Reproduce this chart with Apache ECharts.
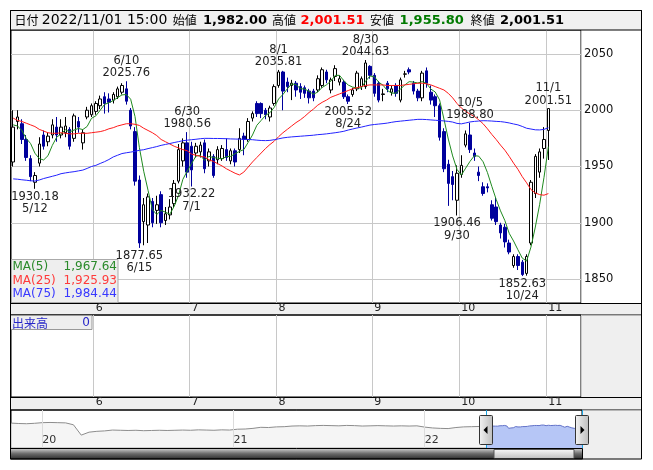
<!DOCTYPE html>
<html>
<head>
<meta charset="utf-8">
<script src="https://cdn.jsdelivr.net/npm/echarts@6/dist/echarts.min.js"></script>
<style>
html, body { margin: 0; padding: 0; background: #fff; }
#chart { width: 653px; height: 470px; }
</style>
</head>
<body>
<div id="chart"></div>
<script>
// trading days shown in the main window
const dates = [
  '5/2','5/6','5/9','5/10','5/11','5/12','5/13','5/16','5/17','5/18','5/19','5/20','5/23','5/24','5/25','5/26','5/27','5/30','5/31',
  '6/1','6/2','6/3','6/6','6/7','6/8','6/9','6/10','6/13','6/14','6/15','6/16','6/17','6/20','6/21','6/22','6/23','6/24','6/27','6/28','6/29','6/30',
  '7/1','7/4','7/5','7/6','7/7','7/8','7/11','7/12','7/13','7/14','7/15','7/19','7/20','7/21','7/22','7/25','7/26','7/27','7/28','7/29',
  '8/1','8/2','8/3','8/4','8/5','8/8','8/9','8/10','8/12','8/15','8/16','8/17','8/18','8/19','8/22','8/23','8/24','8/25','8/26','8/29','8/30','8/31',
  '9/1','9/2','9/5','9/6','9/7','9/8','9/9','9/12','9/13','9/14','9/15','9/16','9/20','9/21','9/22','9/26','9/27','9/28','9/29','9/30',
  '10/3','10/4','10/5','10/6','10/7','10/11','10/12','10/13','10/14','10/17','10/18','10/19','10/20','10/21','10/24','10/25','10/26','10/27','10/28','10/31',
  '11/1'
];
const opens = [
  1954,1990,1988,1974,1957,1936,1953,1978,1972,1978, 1985,1978,1980,1983,1975,1990,1971,1994,1996,1999,
  2004,2012,2010,2009,2012,2016,2019,2000,1981,1938, 1901,1898,1919,1911,1925,1902,1907,1917,1937,1955,
  1971,1968,1962,1963,1971,1955,1959,1956,1957,1965, 1955,1964,1965,1977,1974,1993,2006,2006,2000,1994,
  2006,2022,2034,2025,2022,2024,2021,2020,2017,2017, 2018,2022,2034,2018,2030,2025,2025,2012,2014,2019,
  2021,2021,2039,2031,2024,2014,2024,2016,2022,2009, 2032,2036,2024,2017,2011,2035,2016,2012,2004,1981,
  1952,1941,1920,1943,1969,1978,1962,1945,1932,1932, 1916,1914,1898,1896,1882,1862,1870,1865,1855,1882,
  1926,1945,1966,1982.00
];
const closes = [
  1985,1994,1974,1958,1941,1942,1970,1968,1977,1987, 1978,1985,1986,1968,1995,1985,1980,2000,2004,2006,
  2010,2006,2007,2014,2019,2022,2008,1986,1937,1882, 1916,1923,1900,1916,1900,1908,1914,1935,1965,1971,
  1945,1947,1968,1969,1948,1963,1942,1965,1966,1958, 1964,1954,1975,1974,1990,1997,1997,1997,1996,2002,
  2021,2034,2017,2021,2024,2018,2016,2015,2011,2011, 2028,2036,2027,2027,2037,2028,2012,2008,2018,2033,
  2028,2042,2031,2015,2009,2014.5,2019,2019,2015,2027, 2032.3,2034,2017,2011,2033,2024,2009,2004,1976,1948,
  1935,1934,1944,1951,1979,1965,1959,1942,1926,1931, 1904,1901,1891,1883,1874,1870,1862,1854,1870,1936,
  1959,1963,1974,2001.51
];
const lows = [
  1950,1983,1970,1955,1937,1930.18,1950,1965,1968,1975, 1972,1975,1976,1965,1972,1980,1965,1992,1994,1996,
  2001,1997,1998,2006,2010,2014,2005,1983,1933,1877.65, 1880,1882,1896,1899,1896,1898,1903,1914,1935,1950,
  1940,1932.22,1958,1958,1944,1950,1940,1952,1955,1955, 1952,1950,1962,1960,1972,1990,1994,1993,1992,1990,
  2004,2020,2000,2016,2009,2012,2010,2011,2006,2008, 2016,2020,2024,2015,2026,2022,2010,2005.52,2012,2017,
  2018,2019,2028,2012,2007,2008,2016,2013,2012,2007, 2029,2032,2014,2008,2008,2020,2005,1994,1973,1945,
  1915,1920,1906.46,1940,1967,1962,1955,1937,1924,1927, 1902,1898,1886,1878,1872,1860,1858,1852.63,1853,1880,
  1922,1940,1957,1955.80
];
const highs = [
  2000,2000,1992,1978,1960,1945,1976,1982,1980,1992, 1994,1992,1994,1985,1997,1994,1983,2003,2006,2008,
  2013,2016,2015,2016,2021,2024,2025.76,2002,1985,1942, 1922,1926,1922,1924,1928,1914,1921,1938,1970,1975,
  1980.56,1972,1971,1972,1974,1966,1961,1968,1969,1975, 1966,1966,1984,1980,1993,1999,2008,2007,2002,2004,
  2023,2035.81,2035,2029,2027,2026,2024,2022,2019,2019, 2031,2038,2036,2029,2040,2031,2027,2014,2020,2035,
  2030,2044.63,2040,2033,2026,2019,2026,2022,2024,2029, 2035,2038,2026,2019,2035,2038,2022,2014,2006,1984,
  1956,1946,1951,1960,1982,1988.80,1966,1950,1936,1935, 1920,1922,1900,1899,1885,1872,1872,1867,1872,1938,
  1961,1966,1985,2001.51
];
const ma5 = [
  1987,1986,1982,1975,1970.4,1961.8,1957,1955.8,1959.6,1968.8, 1976,1979,1982.6,1980.8,1982.4,1983.8,1982.8,1985.6,1992.8,1995,
  2000,2005.2,2006.6,2008.6,2011.2,2013.6,2014,2009.8,1994.4,1967, 1945.8,1928.8,1911.6,1907.4,1911,1909.4,1907.6,1914.6,1924.4,1938.6,
  1946,1952.6,1959.2,1960,1955.4,1959,1958,1957.4,1956.8,1958.8, 1959,1961.4,1963.4,1965,1971.4,1978,1986.6,1991,1995.4,1997.8,
  2002.6,2010,2014,2019,2023.4,2022.8,2019.2,2018.8,2016.8,2014.2, 2016.2,2020.2,2022.6,2025.8,2031,2031,2026.2,2022.4,2020.6,2019.8,
  2019.8,2025.8,2030.4,2029.8,2025,2022.2,2017.6,2015.2,2015.2,2018.8, 2022.4,2025.4,2025,2024.2,2025.4,2023.8,2018.8,2016.2,2009.2,1992.2,
  1974.4,1959.4,1947.4,1942.4,1948.6,1954.6,1959.6,1959.2,1954.2,1944.6, 1932.4,1920.8,1910.6,1902,1890.6,1883.8,1876,1868.6,1866,1878.4,
  1896.2,1916.4,1940.4,1967.64
];
const ma25 = [
  1993,1991,1990,1988.5,1987,1985.5,1983,1981.5,1980,1979.5, 1979.5,1980,1979.5,1979,1979,1979.5,1979.5,1979.5,1980,1980.5,
  1981,1982,1983.5,1984.5,1986,1987,1988,1988,1987.5,1986.5, 1984,1982,1980,1977.5,1974,1972,1970,1968,1966.5,1965,
  1964,1961,1960,1959,1958.5,1956,1954.5,1952.5,1950.5,1948, 1946,1944,1942.5,1945,1949.5,1954,1958,1962,1966,1969.5,
  1972.5,1976.5,1980,1983,1986,1989,1991.5,1994.5,1998,2001, 2004.5,2007,2009,2011.5,2013,2014.5,2016,2017.5,2019,2020,
  2021,2022,2022.5,2022.5,2022.5,2022.5,2022,2022,2022,2022, 2022.5,2023,2023.5,2024,2024,2023.5,2022.5,2021,2019.5,2018,
  2015,2011,2006,2002,1999,1996.5,1994.5,1991.5,1988,1983.5, 1978.5,1974,1969,1964.5,1959,1953,1947.5,1941,1935.5,1929.5,
  1926.5,1925,1924.5,1925.93
];
const ma75 = [
  1939,1938.7,1938.2,1937.8,1937.3,1937.1,1938,1939.3,1940.3,1941.3, 1942.3,1943.6,1944.3,1944.9,1945.4,1946.1,1946.8,1948.3,1950,1951,
  1952.7,1954.3,1956.2,1958.5,1960,1961.5,1962.2,1962.8,1963.5,1964.4, 1964.9,1965.9,1966.8,1967.7,1968.8,1969.6,1970.4,1971.3,1972.1,1972.9,
  1973.4,1973.8,1974.2,1974.7,1975,1975,1974.9,1974.9,1974.8,1974.7, 1974.5,1974.4,1974.3,1974.2,1974,1973.8,1973.4,1973.1,1973,1973.2,
  1973.8,1974.6,1975.4,1975.9,1976.3,1976.6,1976.9,1977.2,1977.5,1977.8, 1978.3,1978.6,1979,1979.5,1980,1980.6,1981.3,1982.4,1983.3,1984.2,
  1985,1985.9,1986.8,1987.3,1987.7,1988.1,1988.6,1989.3,1989.9,1990.3, 1990.7,1991.1,1991.5,1991.9,1991.9,1991.7,1991.4,1991.1,1990.8,1990.5,
  1990.1,1989.5,1988.3,1987.9,1988.7,1989.6,1990.1,1990.4,1990.7,1990.6, 1990.4,1990.1,1989.9,1989.4,1988.7,1987.8,1987,1985.6,1984,1983.3,
  1982.6,1982.5,1983,1984.44
];
const volumeNow = 0;
const priceTicks = [1850, 1900, 1950, 2000, 2050];

// high / low notes
const noteDates = ['5/12','6/10','6/15','6/30','7/1','8/1','8/24','8/30','9/30','10/5','10/24','11/1'];
const noteSides = ['low','high','low','high','low','high','low','high','low','high','low','high'];

// navigator: long history, one value every 10 trading days, then the window itself
const navHistory = [
  2130,2110,2100,2120,2150,2160,2150,2140,2050,1560,
  1700,1740,1760,1800,1790,1780,1790,1770,1780,1790,
  1780,1790,1800,1790,1810,1800,1790,1810,1800,1840,
  1850,1880,1930,1920,1950,1960,1990,2000,1990,2010,
  2020,2010,2000,2020,2010,1990,2000,2010,2000,1990,
  2000,1990,2000,1940,1900,1880,1870,1920,1950,1960,1970
];
const navStep = 10;
const navWindowStart = 608.5;
const navYearPos = [40, 285, 530];
const navYearLabels = ['20', '21', '22'];

const stamp = '2022/11/01 15:00';
const padSlots = 7;

const FONT = 'DejaVu Sans';
const CJK = 'Noto Sans CJK JP';

const cats = dates.concat(Array.from({ length: padSlots }, (_, k) => 'pad' + k));
const monthOf = d => d.split('/')[0];
const isMonthStart = i => i > 0 && i < dates.length && monthOf(dates[i]) !== monthOf(dates[i - 1]);
const fmt = v => v.toLocaleString('en-US', { minimumFractionDigits: 2, maximumFractionDigits: 2 });

const candles = dates.map((d, i) => [opens[i], closes[i], lows[i], highs[i]]);

const notes = noteDates.map((d, k) => {
  const i = dates.indexOf(d);
  const high = noteSides[k] === 'high';
  const v = high ? highs[i] : lows[i];
  return {
    coord: [d, v],
    label: {
      position: high ? 'top' : 'bottom',
      formatter: high ? d + '\n' + v.toFixed(2) : v.toFixed(2) + '\n' + d
    }
  };
});

const navHist = navHistory.map((v, k) => [k * navStep, v]);
const navWin = closes.map((v, i) => [navWindowStart + i, v]);

const monthAxis = (gridIndex) => ({
  type: 'category',
  gridIndex: gridIndex,
  data: cats,
  boundaryGap: true,
  axisLine: { show: false },
  axisTick: { show: false },
  axisLabel: {
    interval: (i) => isMonthStart(i),
    formatter: (v) => monthOf(v),
    align: 'left',
    verticalAlign: 'top',
    margin: 0,
    lineHeight: 11,
    fontSize: 11,
    color: '#222',
    fontFamily: FONT
  },
  splitLine: {
    show: true,
    interval: (i) => isMonthStart(i),
    lineStyle: { color: '#c8c8c8', width: 1 }
  }
});

const chart = echarts.init(document.getElementById('chart'));

chart.setOption({
  animation: false,
  textStyle: { fontFamily: FONT },
  grid: [
    { left: 11, top: 30, width: 570, height: 273, show: true, borderColor: '#000', borderWidth: 1 },
    { left: 11, top: 315, width: 570, height: 82, show: true, borderColor: '#000', borderWidth: 1 },
    { left: 11, top: 410, width: 571, height: 38, show: true, borderColor: '#000', borderWidth: 1 }
  ],
  xAxis: [
    monthAxis(0),
    monthAxis(1),
    {
      type: 'value',
      gridIndex: 2,
      z: 10,
      min: 0,
      max: navWindowStart + dates.length - 1,
      axisLine: { show: false },
      axisTick: { show: false, customValues: navYearPos },
      axisLabel: {
        customValues: navYearPos,
        inside: true,
        formatter: (v) => navYearLabels[navYearPos.indexOf(v)],
        align: 'left',
        margin: 2,
        fontSize: 11,
        color: '#333'
      },
      splitLine: { show: true, lineStyle: { color: '#dcdcdc' } }
    }
  ],
  yAxis: [
    {
      type: 'value',
      gridIndex: 0,
      position: 'right',
      min: 1828.7,
      max: 2071.3,
      axisLine: { show: false },
      axisTick: { show: false, customValues: priceTicks },
      axisLabel: {
        customValues: priceTicks,
        formatter: (v) => String(v),
        margin: 3,
        fontSize: 11.5,
        color: '#111'
      },
      splitLine: { show: true, lineStyle: { color: '#c8c8c8' } }
    },
    {
      type: 'value',
      gridIndex: 1,
      min: 0,
      max: 1,
      show: false
    },
    {
      type: 'value',
      gridIndex: 2,
      min: 950,
      max: 2750,
      show: false
    }
  ],
  series: [
    {
      type: 'candlestick',
      name: 'price',
      xAxisIndex: 0,
      yAxisIndex: 0,
      data: candles,
      barWidth: 3,
      itemStyle: {
        color: '#ffffff',
        color0: '#00009c',
        borderColor: '#000000',
        borderColor0: '#00009c',
        borderWidth: 1
      },
      markPoint: {
        symbol: 'circle',
        symbolSize: 1,
        itemStyle: { color: 'rgba(0,0,0,0)' },
        label: {
          show: true,
          distance: 1,
          fontSize: 11.5,
          lineHeight: 12.5,
          color: '#222',
          fontFamily: FONT
        },
        data: notes
      }
    },
    {
      type: 'line', name: 'MA(5)', xAxisIndex: 0, yAxisIndex: 0, data: ma5,
      symbol: 'none', lineStyle: { color: '#1f8a1f', width: 1 }, z: 3
    },
    {
      type: 'line', name: 'MA(25)', xAxisIndex: 0, yAxisIndex: 0, data: ma25,
      symbol: 'none', lineStyle: { color: '#ff1a1a', width: 1 }, z: 3
    },
    {
      type: 'line', name: 'MA(75)', xAxisIndex: 0, yAxisIndex: 0, data: ma75,
      symbol: 'none', lineStyle: { color: '#2222ff', width: 1 }, z: 3
    },
    {
      type: 'line', xAxisIndex: 2, yAxisIndex: 2,
      data: navHist.concat([navWin[0]]),
      symbol: 'none',
      lineStyle: { color: '#8c8c8c', width: 1 },
      areaStyle: { color: '#f1f1f1', origin: 'start' }
    },
    {
      type: 'line', xAxisIndex: 2, yAxisIndex: 2,
      data: navWin,
      symbol: 'none',
      lineStyle: { color: '#6272c8', width: 1 },
      areaStyle: { color: '#b6c6f6', origin: 'start', opacity: 1 }
    }
  ]
});

// decorations: panels, header, legends, navigator handles
const selL = chart.convertToPixel({ xAxisIndex: 2 }, navWindowStart);
const selR = chart.convertToPixel({ xAxisIndex: 2 }, navWindowStart + dates.length - 1);
const last = dates.length - 1;

const g = [];
const rect = (x, y, w, h, fill, stroke, z) => g.push({
  type: 'rect', shape: { x: x, y: y, width: w, height: h }, z: z === undefined ? -1 : z,
  style: { fill: fill, stroke: stroke || null, lineWidth: 1 }, silent: true
});
const text = (t, x, y, font, fill, align, z) => g.push({
  type: 'text', z: z === undefined ? 50 : z, silent: true,
  style: { text: t, x: x, y: y, font: font, fill: fill, textAlign: align || 'left', textVerticalAlign: 'middle' }
});

// header bar
rect(10.5, 10.5, 631, 19.5, '#f0f0f0', '#000', 40);
text('日付', 14.5, 20.5, '12px "' + CJK + '"', '#000');
text(stamp, 41.8, 20.5, '14px "' + FONT + '"', '#000');
text('始値', 172.8, 20.5, '12px "' + CJK + '"', '#000');
text(fmt(opens[last]), 203, 20.5, 'bold 13px "' + FONT + '"', '#000');
text('高値', 272, 20.5, '12px "' + CJK + '"', '#000');
text(fmt(highs[last]), 300.4, 20.5, 'bold 13px "' + FONT + '"', '#ff0000');
text('安値', 370, 20.5, '12px "' + CJK + '"', '#000');
text(fmt(lows[last]), 399.6, 20.5, 'bold 13px "' + FONT + '"', '#007a00');
text('終値', 470.7, 20.5, '12px "' + CJK + '"', '#000');
text(fmt(closes[last]), 500, 20.5, 'bold 13px "' + FONT + '"', '#000');

// strips and grey columns
rect(10.5, 303.5, 631, 11.5, '#efefef', '#000');
rect(581.5, 315.5, 60, 81.5, '#efefef', null);
rect(10.5, 397.5, 631, 12.5, '#efefef', '#000');
rect(582.5, 410.5, 59, 49, '#efefef', null);

// scrollbar
g.push({
  type: 'rect', z: 40, silent: true,
  shape: { x: 10.5, y: 448.5, width: 572, height: 10.5 },
  style: {
    stroke: '#000', lineWidth: 1,
    fill: new echarts.graphic.LinearGradient(0, 0, 0, 1, [
      { offset: 0, color: '#d8d8d8' }, { offset: 0.5, color: '#6a6a6a' }, { offset: 1, color: '#2a2a2a' }
    ])
  }
});
g.push({
  type: 'rect', z: 41, silent: true,
  shape: { x: selL + 8, y: 449.5, width: selR - selL - 16, height: 9 },
  style: {
    stroke: '#555', lineWidth: 1,
    fill: new echarts.graphic.LinearGradient(0, 0, 0, 1, [
      { offset: 0, color: '#fafafa' }, { offset: 1, color: '#bdbdbd' }
    ])
  }
});

// selection edges and handles
[selL, selR].forEach((px, k) => {
  g.push({
    type: 'line', z: 42, silent: true,
    shape: { x1: Math.round(px) + 0.5, y1: 410, x2: Math.round(px) + 0.5, y2: 448 },
    style: { stroke: '#1aa3e0', lineWidth: 1 }
  });
  const hx = Math.round(px) - 6.5;
  g.push({
    type: 'rect', z: 43, silent: true,
    shape: { x: hx, y: 415.5, width: 13, height: 29, r: 1 },
    style: {
      stroke: '#333', lineWidth: 1,
      fill: new echarts.graphic.LinearGradient(0, 0, 1, 0, [
        { offset: 0, color: '#f4f4f4' }, { offset: 1, color: '#bcbcbc' }
      ])
    }
  });
  const cx = hx + 6.5;
  const pts = k === 0
    ? [[cx - 2.5, 430], [cx + 1.5, 426], [cx + 1.5, 434]]
    : [[cx + 2.5, 430], [cx - 1.5, 426], [cx - 1.5, 434]];
  g.push({ type: 'polygon', z: 44, silent: true, shape: { points: pts }, style: { fill: '#000' } });
});

// MA legend box
rect(11.5, 259.5, 106.5, 43, '#eeeeee', '#aaaaaa', 40);
const maRows = [['MA(5)', ma5, '#2a8a2a'], ['MA(25)', ma25, '#ff3b3b'], ['MA(75)', ma75, '#3838ff']];
maRows.forEach((r, k) => {
  const y = 267 + k * 13.6;
  text(r[0], 12.5, y, '12px "' + FONT + '"', r[2]);
  text(fmt(r[1][last]), 117, y, '12px "' + FONT + '"', r[2], 'right');
});

// volume label
rect(10.5, 315.5, 81.5, 14, '#eeeeee', '#999999', 40);
text('出来高', 12, 323, '12px "' + CJK + '"', '#2727c8');
text(String(volumeNow), 90, 323, '12px "' + FONT + '"', '#2727c8', 'right');

// outer frame
g.push({
  type: 'rect', z: 60, silent: true,
  shape: { x: 10.5, y: 10.5, width: 631, height: 448.5 },
  style: { fill: null, stroke: '#000', lineWidth: 1 }
});

chart.setOption({ graphic: g });
</script>
</body>
</html>
